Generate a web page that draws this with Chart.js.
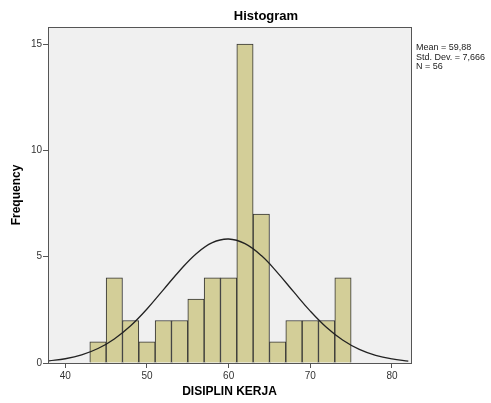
<!DOCTYPE html>
<html>
<head>
<meta charset="utf-8">
<script src="https://cdn.jsdelivr.net/npm/chart.js@4"></script>
<style>
  body { margin: 0; background: #fff; }
  #wrap { width: 491px; height: 403px; }
</style>
</head>
<body>
<div id="wrap"><canvas id="grafico" width="491" height="403"></canvas></div>
<script>
// bin centres (bin width 2) and counts
const binCentres = [44, 46, 48, 50, 52, 54, 56, 58, 60, 62, 64, 66, 68, 70, 72, 74];
const counts = [1, 4, 2, 1, 2, 2, 3, 4, 4, 15, 7, 1, 2, 2, 2, 4];
// normal curve
const curveX = [38, 40, 42, 44, 46, 48, 50, 52, 54, 56, 58, 60, 62, 64, 66, 68, 70, 72, 74, 76, 78, 80, 82];
const curveY = [0.10, 0.20, 0.38, 0.68, 1.13, 1.75, 2.54, 3.44, 4.34, 5.13, 5.66, 5.83, 5.61, 5.05, 4.24, 3.33, 2.44, 1.67, 1.07, 0.64, 0.36, 0.19, 0.09];
const xTicks = [40, 50, 60, 70, 80];
const yTicks = [0, 5, 10, 15];
const statsText = ["Mean = 59,88", "Std. Dev. = 7,666", "N = 56"];

const canvas = document.getElementById("grafico");

const fondo = {
  id: "fondo",
  beforeDraw(chart) {
    const { ctx, chartArea: a } = chart;
    ctx.save();
    ctx.fillStyle = "#f0f0f0";
    ctx.fillRect(a.left, a.top, a.right - a.left, a.bottom - a.top);
    ctx.restore();
  },
  afterDraw(chart) {
    const { ctx, chartArea: a } = chart;
    ctx.save();
    ctx.strokeStyle = "#555";
    ctx.lineWidth = 1;
    ctx.strokeRect(Math.round(a.left) + 0.5, Math.round(a.top) + 0.5, Math.round(a.right - a.left), Math.round(a.bottom - a.top));
    ctx.fillStyle = "#000";
    ctx.font = "bold 13px 'Liberation Sans', Arial, sans-serif";
    ctx.textAlign = "center";
    ctx.textBaseline = "middle";
    ctx.fillText("Histogram", 266, 16);
    ctx.font = "9px 'Liberation Sans', Arial, sans-serif";
    ctx.textAlign = "left";
    ctx.fillStyle = "#222";
    statsText.forEach((t, i) => ctx.fillText(t, 416, 48 + i * 9.5));
    ctx.restore();
  }
};

new Chart(canvas, {
  type: "bar",
  data: {
    datasets: [{
      type: "line",
      data: curveX.map((x, i) => ({ x: x, y: curveY[i] })),
      borderColor: "#222",
      borderWidth: 1.3,
      pointRadius: 0,
      tension: 0.4,
      fill: false,
      order: 0
    }, {
      type: "bar",
      data: binCentres.map((x, i) => ({ x: x, y: counts[i] })),
      backgroundColor: "#d3ce98",
      borderColor: "#333",
      borderWidth: 1,
      barPercentage: 1,
      categoryPercentage: 1,
      order: 1
    }]
  },
  options: {
    responsive: false,
    animation: false,
    plugins: { legend: { display: false }, tooltip: { enabled: false } },
    layout: { padding: { left: 0, right: 80, top: 27, bottom: 0 } },
    scales: {
      x: {
        type: "linear",
        min: 37.88,
        max: 82.33,
        offset: false,
        afterFit(s) { s.height = 40; },
        afterBuildTicks(s) { s.ticks = xTicks.map(v => ({ value: v })); },
        grid: { offset: false, drawOnChartArea: false, drawTicks: true, tickLength: 5, color: "#555" },
        border: { color: "#555" },
        ticks: { color: "#333", font: { size: 10, family: "'Liberation Sans', Arial" }, padding: 2 },
        title: { display: true, text: "DISIPLIN KERJA", color: "#000", font: { size: 12, weight: "bold", family: "'Liberation Sans', Arial" }, padding: { top: 9 } }
      },
      y: {
        min: 0,
        max: 15.8,
        afterFit(s) { s.width = 48; },
        afterBuildTicks(s) { s.ticks = yTicks.map(v => ({ value: v })); },
        grid: { drawOnChartArea: false, drawTicks: true, tickLength: 5, color: "#555" },
        border: { color: "#555" },
        ticks: { color: "#333", font: { size: 10, family: "'Liberation Sans', Arial" }, padding: 1 },
        title: { display: true, text: "Frequency", color: "#000", font: { size: 12, weight: "bold", family: "'Liberation Sans', Arial" }, padding: { top: 9, bottom: 0 } }
      }
    }
  },
  plugins: [fondo]
});
</script>
</body>
</html>
